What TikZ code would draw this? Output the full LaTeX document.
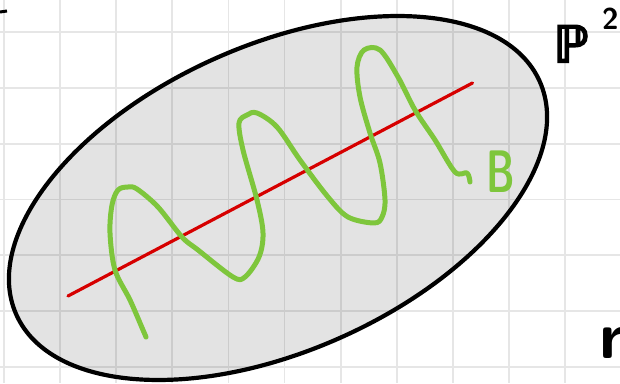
\documentclass[tikz,border=0pt]{standalone}
\usepackage{fontspec}
\newfontfamily\djvfont[FakeBold=4]{DejaVu Sans}
\definecolor{gridgray}{RGB}{230,230,230}
\definecolor{curvegreen}{RGB}{126,198,60}
\definecolor{linered}{RGB}{214,0,0}

\begin{document}
\begin{tikzpicture}[x=1pt,y=1pt]
    \useasboundingbox (0,0) rectangle (620,383);
    \foreach \i in {0,...,10} \draw[gridgray,line width=1.8pt] (4+56.1*\i,0)--(4+56.1*\i,383);
    \foreach \j in {0,...,6} \draw[gridgray,line width=1.8pt] (0,16+55.83*\j)--(620,16+55.83*\j);
    \draw[line width=4.2pt,fill=black,fill opacity=0.11,rotate around={24:(278,185)}] (278,185) ellipse (286.5 and 153);
    \coordinate (r1) at (68,87);
    \coordinate (r2) at (472.5,300);
    \draw[linered,line width=3.2pt,line cap=round] (r1)--(r2);
    \draw[curvegreen,line width=5pt,line cap=round,line join=round] plot[smooth,tension=0.55] coordinates {(146,46) (143,53) (130,83) (115,113) (110,150) (112,178) (118,193) (128,196) (137,194) (158,176) (182,146) (198,133) (233,106) (245,106) (259,126) (263,150) (257,183) (243,233) (239,260) (247,268) (257,270) (277,256) (300,223) (328,186) (348,166) (374,160) (382,166) (385,183) (380,220) (370,250) (360,286) (357,316) (364,333) (380,333) (398,306) (415,273) (435,243) (455,211) (467,210) (470,201)};
    \node[curvegreen,font=\sffamily\bfseries\fontsize{60}{60}\selectfont,xscale=0.65,transform shape] (labB) at (501,211) {B};
    \node[anchor=base,font=\djvfont\fontsize{50}{50}\selectfont,inner sep=0pt] (labP) at (571,321) {ℙ};
    \node[anchor=base west,font=\sffamily\bfseries\fontsize{30}{30}\selectfont,inner sep=0pt] (labTwo) at (602,353) {2};
    \node[anchor=base west,font=\sffamily\bfseries\fontsize{66}{66}\selectfont,inner sep=0pt] (labR) at (599,25) {r};
    \draw[line width=3pt] (0,371)--(7,372);
\end{tikzpicture}
\end{document}
